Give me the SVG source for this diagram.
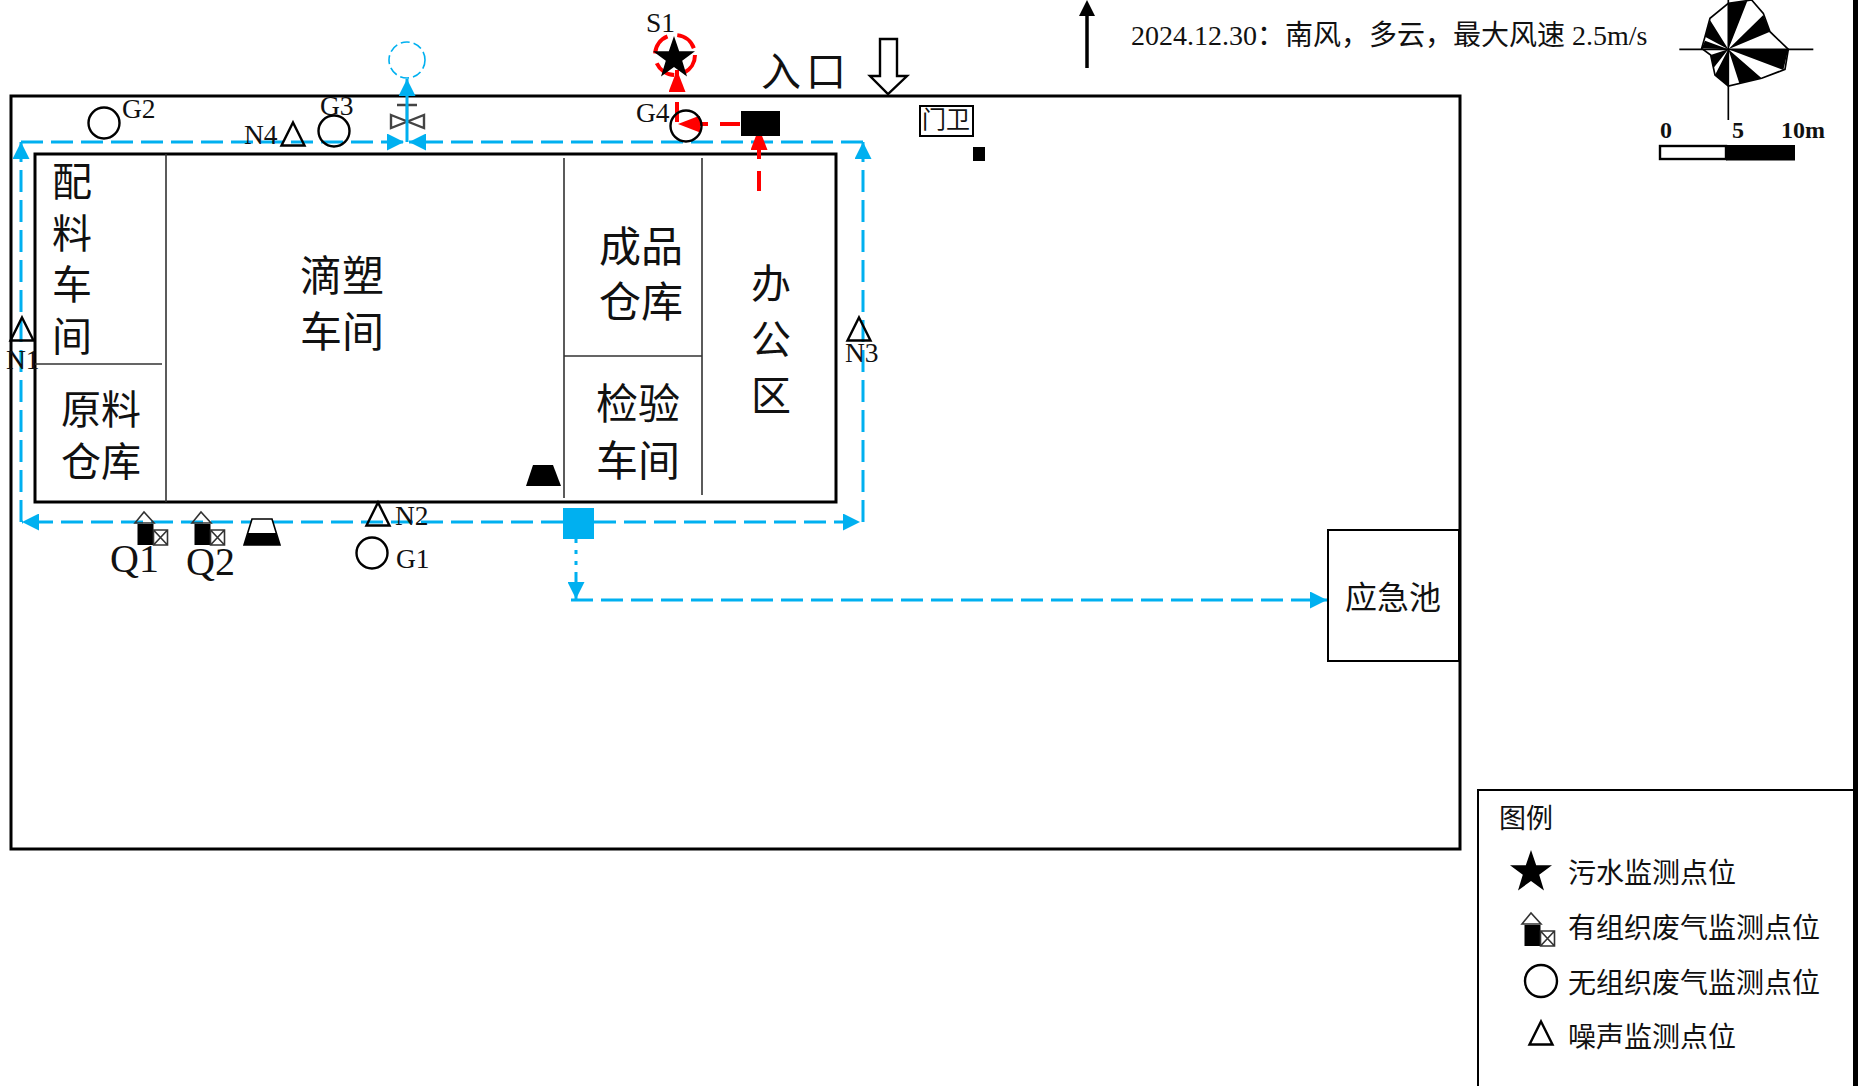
<svg xmlns="http://www.w3.org/2000/svg" width="1858" height="1086" viewBox="0 0 1858 1086">
<style>
text{font-family:"Liberation Serif","Noto Sans CJK SC",serif;fill:#111}
.cn{text-anchor:middle;dominant-baseline:central}
.l40{font-size:40px}
.l42{font-size:42px}
.l28{font-size:28px;dominant-baseline:central}
.lab{font-size:27.500px}
.box{fill:none;stroke:#000}
.o{fill:#fff;stroke:#000;stroke-width:2.400}
.no{fill:none;stroke:#000;stroke-width:2.400}
.b{fill:none;stroke:#00B0F0;stroke-width:3;stroke-dasharray:22 8}
.bs{fill:none;stroke:#00B0F0;stroke-width:3}
.r{fill:none;stroke:#FF0000;stroke-width:4;stroke-dasharray:20 12}
.thin{stroke:#333;stroke-width:1.600;fill:none}
</style>
<defs>
<marker id="ab" markerUnits="userSpaceOnUse" markerWidth="17" markerHeight="17" refX="17" refY="8.500" orient="auto"><path d="M0 0L17 8.500L0 17Z" fill="#00B0F0"/></marker>
<marker id="ar" markerUnits="userSpaceOnUse" markerWidth="22" markerHeight="17" refX="22" refY="8.500" orient="auto"><path d="M0 0L22 8.500L0 17Z" fill="#FF0000"/></marker>
<g id="stack"><path class="thin" d="M-8 11L1 0L11 11Z"/><rect x="-5.500" y="12" width="16" height="21" fill="#000"/><path class="thin" d="M10.500 18h14v15h-14zM10.500 18l14 15M24.500 18l-14 15"/></g>
<path id="tri" d="M0 -11.500L11.500 11.500H-11.500Z" class="no" stroke-linejoin="miter"/>
<path id="star" d="M0 -22L5.200 -6.800H21L8.200 2.700L13 18.500L0 9L-13 18.500L-8.200 2.700L-21 -6.800H-5.200Z" fill="#000"/>
</defs>
<rect width="1858" height="1086" fill="#fff"/>
<rect x="1853" y="0" width="5" height="1086" fill="#000"/>
<g id="site"><rect x="11" y="96" width="1449" height="753" class="box" stroke-width="3"/></g>
<g id="building">
<rect x="35" y="154" width="801" height="348" class="box" stroke-width="3"/>
<path class="thin" d="M166 154V502M35 364H162M564 158V498M702 158V495M564 356H702"/>
</g>
<g id="valve"><path d="M397 105H417M407 105V122M391 115L424 128V115L391 128Z" fill="none" stroke="#444" stroke-width="2.400"/></g>
<g id="connectors">
<path class="b" d="M21 522V142" marker-end="url(#ab)"/>
<path class="b" d="M21 142H404" marker-end="url(#ab)"/>
<path class="b" d="M863 142H409" marker-end="url(#ab)"/>
<path class="b" d="M863 522V142" marker-end="url(#ab)"/>
<path class="b" d="M563 522H22" marker-end="url(#ab)"/>
<path class="b" d="M594 522H860" marker-end="url(#ab)"/>
<path class="bs" d="M407 142V79" marker-end="url(#ab)"/>
<path class="bs" d="M576 539V574" stroke-dasharray="4 7"/>
<path class="bs" d="M576 574V599" marker-end="url(#ab)"/>
<path class="b" d="M571 600H1327" marker-end="url(#ab)"/>
<path class="r" d="M677 122V70" marker-end="url(#ar)"/>
<path class="r" d="M740 124H678" marker-end="url(#ar)"/>
<path class="r" d="M759 191V128" marker-end="url(#ar)"/>
</g>
<g id="pump-outlet"><circle cx="407" cy="60" r="18" fill="none" stroke="#00B0F0" stroke-width="1.600" stroke-dasharray="9 4"/></g>
<g id="pump-square"><rect x="563" y="508" width="31" height="31" fill="#00B0F0"/></g>
<g id="tank"><rect x="1328" y="530" width="131" height="131" class="box" stroke-width="2"/><text class="cn" x="1393" y="598" font-size="32">应急池</text></g>
<g id="room-peiliao"><text class="cn l40" x="72" y="182">配</text><text class="cn l40" x="72" y="234">料</text><text class="cn l40" x="72" y="285">车</text><text class="cn l40" x="72" y="337">间</text></g>
<g id="room-yuanliao"><text class="cn l40" x="101" y="410">原料</text><text class="cn l40" x="101" y="462">仓库</text></g>
<g id="room-disu"><text class="cn l42" x="342" y="277">滴塑</text><text class="cn l42" x="342" y="333">车间</text></g>
<g id="room-chengpin"><text class="cn l42" x="641" y="248">成品</text><text class="cn l42" x="641" y="303">仓库</text></g>
<g id="room-jianyan"><text class="cn l42" x="638" y="405">检验</text><text class="cn l42" x="638" y="462">车间</text></g>
<g id="room-office"><text class="cn l40" x="771" y="284">办</text><text class="cn l40" x="771" y="340">公</text><text class="cn l40" x="771" y="396">区</text></g>
<g id="entrance"><text class="cn l40" x="781" y="72">入</text><text class="cn l40" x="826" y="72">口</text><path class="o" stroke-width="3" d="M880 39H897V76H907L888 94L870 76H880Z"/></g>
<g id="guard"><rect x="920" y="106" width="53" height="30" class="box" stroke-width="2"/><text class="cn" x="946" y="120" font-size="24">门卫</text><rect x="973" y="147" width="12" height="14" fill="#000"/></g>
<g id="black-box"><rect x="741" y="111" width="39" height="25" fill="#000"/></g>
<g id="S1"><circle cx="675" cy="55" r="20" fill="none" stroke="#FF0000" stroke-width="4" stroke-dasharray="22 10"/><use href="#star" x="674" y="58"/><text class="lab" x="646" y="32">S1</text></g>
<g id="G1"><circle cx="372" cy="553" r="15.500" class="no"/><text class="lab" x="396" y="568">G1</text></g>
<g id="G2"><circle cx="104" cy="123" r="15.500" class="no"/><text class="lab" x="122" y="118">G2</text></g>
<g id="G3"><circle cx="334" cy="131" r="15.500" class="no"/><text class="lab" x="320" y="115">G3</text></g>
<g id="G4"><circle cx="686" cy="126" r="15.500" class="no"/><text class="lab" x="636" y="122">G4</text></g>
<g id="N1"><use href="#tri" x="22" y="329"/><text class="lab" x="6" y="369">N1</text></g>
<g id="N2"><use href="#tri" x="378" y="514"/><text class="lab" x="395" y="525">N2</text></g>
<g id="N3"><use href="#tri" x="859" y="329"/><text class="lab" x="845" y="362">N3</text></g>
<g id="N4"><use href="#tri" x="293" y="134"/><text class="lab" x="244" y="144">N4</text></g>
<g id="Q1"><use href="#stack" x="143" y="512"/><text x="110" y="572" font-size="40">Q1</text></g>
<g id="Q2"><use href="#stack" x="200" y="512"/><text x="186" y="575" font-size="40">Q2</text></g>
<g id="hopper-a"><path d="M252 519H272L280 545H244Z" fill="#fff" stroke="#000" stroke-width="1.600"/><path d="M248 533H276L280 545H244Z" fill="#000"/></g>
<g id="hopper-b"><path d="M533 465H553L561 486H526Z" fill="#000"/></g>
<g id="north"><path d="M1087 68V12" stroke="#000" stroke-width="3.500" fill="none"/><path d="M1087 0L1095 16H1079Z" fill="#000"/></g>
<g id="weather"><text x="1131" y="45" font-size="28">2024.12.30：南风，多云，最大风速 2.5m/s</text></g>
<g id="windrose" transform="translate(1660 0) scale(.3333)">
<path d="M205 10L275 0L310 40L330 95L385 148L375 208L305 235L205 258L165 225L152 165L125 145L135 110L150 55Z" fill="#fff" stroke="#000" stroke-width="5"/>
<path d="M205 148V10L262 3ZM205 148L310 45L330 95ZM205 148H385L370 210ZM205 148L305 235L238 250ZM205 148V258L165 225ZM205 148L152 165L160 205ZM205 148L125 145L135 122ZM205 148L150 60L135 110Z" fill="#000"/>
<path d="M58 148H460M205 0V360" stroke="#000" stroke-width="5" fill="none"/>
</g>
<g id="scale"><rect x="1660" y="146" width="66" height="13" fill="#fff" stroke="#000" stroke-width="2.400"/><rect x="1726" y="145" width="69" height="15.500" fill="#000"/><text x="1660" y="138" font-size="24" font-weight="700">0</text><text x="1732" y="138" font-size="24" font-weight="700">5</text><text x="1781" y="138" font-size="24" font-weight="700">10m</text></g>
<g id="legend">
<path d="M1853 790H1478V1086" class="box" stroke-width="2"/>
<text class="cn" x="1526" y="819" font-size="27">图例</text>
<use href="#star" x="1531" y="872"/><text class="l28" x="1568" y="873">污水监测点位</text>
<use href="#stack" x="1530" y="913"/><text class="l28" x="1568" y="928">有组织废气监测点位</text>
<circle cx="1541" cy="981" r="16" class="no"/><text class="l28" x="1568" y="983">无组织废气监测点位</text>
<use href="#tri" x="1541" y="1033"/><text class="l28" x="1568" y="1037">噪声监测点位</text>
</g>
</svg>
